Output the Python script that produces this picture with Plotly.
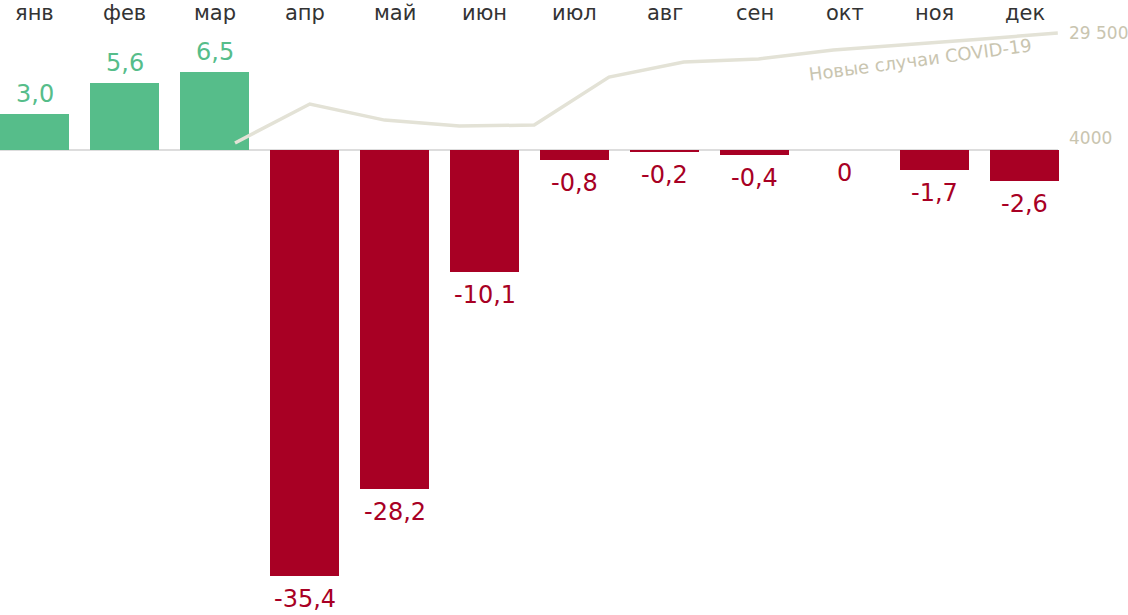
import plotly.graph_objects as go

months = ["янв", "фев", "мар", "апр", "май", "июн", "июл", "авг", "сен", "окт", "ноя", "дек"]
values = [3.0, 5.6, 6.5, -35.4, -28.2, -10.1, -0.8, -0.2, -0.4, 0.0, -1.7, -2.6]
labels = ["3,0", "5,6", "6,5", "-35,4", "-28,2", "-10,1", "-0,8", "-0,2", "-0,4", "0", "-1,7", "-2,6"]
covid_idx = list(range(12))
covid_cases = [2800, 12250, 8350, 6900, 7150, 18800, 22450, 23200, 25350, 26600, 28050, 29500]
right_ticks = [4000, 29500]
right_tick_text = ["4000", "29 500"]

GREEN = "#56bd8a"
RED = "#a80024"
LINE = "#e3e2d6"
AXT = "#c9c5b0"

W, H = 1128, 615
colors = [GREEN if v > 0 else RED for v in values]

fig = go.Figure()
fig.add_trace(go.Bar(x=list(range(12)), y=values, marker_color=colors, width=69/90,
                     marker_line_width=0, hoverinfo="skip"))
fig.add_trace(go.Scatter(x=covid_idx, y=covid_cases, mode="lines", xaxis="x2", yaxis="y2",
                         line=dict(color=LINE, width=3.5), hoverinfo="skip"))

# bar axis mapping: pixel = 34.5 + 90*i ; zero at y=150, 12.03 px/unit
xr = [-34.5/90, (W-34.5)/90]
ppu = 12.03
yr = [-(H-150)/ppu, 150/ppu]
# line axis mapping: pixel = 235 + 74.8*j ; 4000 at y=138, 29500 at y=33
x2r = [-235/74.8, (W-235)/74.8]
vpp = (29500-4000)/(138-33)
y2r = [4000 - (H-138)*vpp, 4000 + 138*vpp]

ann = []
for i, (v, t) in enumerate(zip(values, labels)):
    pos = v > 0
    ann.append(dict(x=i, y=v, xref="x", yref="y", text=t, showarrow=False,
                    yanchor="bottom" if pos else "top", yshift=4 if pos else -7,
                    font=dict(family="DejaVu Sans", size=24, color=GREEN if pos else RED)))
for i, m in enumerate(months):
    ann.append(dict(x=i, y=1, xref="x", yref="paper", text=m, showarrow=False,
                    yanchor="top", yshift=1,
                    font=dict(family="DejaVu Sans", size=21, color="#333333")))
for v, t in zip(right_ticks, right_tick_text):
    ann.append(dict(x=1067/W, y=v, xref="paper", yref="y2", text=t, showarrow=False,
                    xanchor="left", yanchor="middle",
                    font=dict(family="DejaVu Sans", size=17, color=AXT)))
ann.append(dict(x=9.17, y=23000, xref="x2", yref="y2", text="Новые случаи COVID-19",
                showarrow=False, textangle=-7.5,
                font=dict(family="DejaVu Sans", size=18, color=AXT)))

fig.update_layout(
    width=W, height=H, margin=dict(l=0, r=0, t=0, b=0),
    paper_bgcolor="white", plot_bgcolor="white", showlegend=False,
    xaxis=dict(range=xr, visible=False, fixedrange=True),
    yaxis=dict(range=yr, visible=False, zeroline=False, fixedrange=True),
    xaxis2=dict(range=x2r, visible=False, overlaying="x", fixedrange=True),
    yaxis2=dict(range=y2r, visible=False, overlaying="y", fixedrange=True),
    annotations=ann,
    shapes=[dict(type="line", xref="paper", yref="y", x0=0, x1=1058/W, y0=0, y1=0,
                 line=dict(color="#dddddd", width=2), layer="below")],
    bargap=0,
)
fig.write_html("out.html", config={"displayModeBar": False, "staticPlot": True},
               post_script="document.body.style.margin='0';document.body.style.overflow='hidden';")
